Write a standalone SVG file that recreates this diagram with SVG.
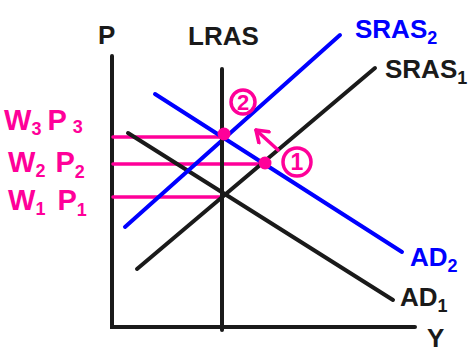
<svg xmlns="http://www.w3.org/2000/svg" width="472" height="354" viewBox="0 0 472 354">
<style>
.k{stroke:#1a1a1a;stroke-width:4;stroke-linecap:round;fill:none}
.b{stroke:#0000ff;stroke-width:4;stroke-linecap:round;fill:none}
.p{stroke:#ff0099;stroke-width:3.5;stroke-linecap:round;fill:none}
.t{font-family:"Liberation Sans",Arial,sans-serif;font-size:26px;font-weight:bold}
.tk{fill:#1a1a1a}.tb{fill:#0000ff}.tp{fill:#ff0099}
.s{font-size:18px}
.lp{font-size:29px}
</style>
<defs>
<marker id="ah" viewBox="0 0 10 10" refX="9" refY="5" markerWidth="18" markerHeight="18" markerUnits="userSpaceOnUse" orient="auto">
<path d="M3,0.8 L9,5 L3,9.2" stroke="#ff0099" stroke-width="2" fill="none" stroke-linecap="round" stroke-linejoin="round"/>
</marker>
</defs>
<g id="axes">
<path class="k" d="M112,56 L112,327 L415,327"/>
<text class="t tk" x="98" y="44">P</text>
<text class="t tk" x="427" y="347">Y</text>
</g>
<g id="connectors">
<line class="p" x1="113" y1="137" x2="224" y2="137"/>
<line class="p" x1="113" y1="164" x2="265" y2="164"/>
<line class="p" x1="113" y1="197" x2="222" y2="197"/>
<line class="k" x1="128" y1="133" x2="393" y2="300"/>
<line class="k" x1="137" y1="269" x2="375" y2="68"/>
<line class="b" x1="155" y1="94" x2="402" y2="252"/>
<line class="b" x1="125" y1="227" x2="340" y2="35"/>
<line class="p" x1="278" y1="150" x2="256" y2="130" marker-end="url(#ah)"/>
</g>
<g id="lras">
<line class="k" x1="222" y1="69" x2="222" y2="330"/>
<text class="t tk" x="188" y="45">LRAS</text>
</g>
<g id="sras2"><text class="t tb" x="355" y="38">SRAS<tspan class="s" dy="6">2</tspan></text></g>
<g id="sras1"><text class="t tk" x="385" y="78">SRAS<tspan class="s" dy="6">1</tspan></text></g>
<g id="ad2"><text class="t tb" x="410" y="266">AD<tspan class="s" dy="6">2</tspan></text></g>
<g id="ad1"><text class="t tk" x="400" y="306">AD<tspan class="s" dy="6">1</tspan></text></g>
<g id="labels-left">
<text class="t tp lp" x="4" y="130">W<tspan class="s" dy="5">3</tspan><tspan dx="6" dy="-5">P</tspan><tspan class="s" dx="6" dy="3">3</tspan></text>
<text class="t tp lp" x="8" y="172">W<tspan class="s" dy="5">2</tspan><tspan dx="10" dy="-5">P</tspan><tspan class="s" dy="6">2</tspan></text>
<text class="t tp lp" x="8" y="210">W<tspan class="s" dy="5">1</tspan><tspan dx="12" dy="-5">P</tspan><tspan class="s" dy="6">1</tspan></text>
</g>
<g id="point2">
<circle cx="224" cy="134" r="6.5" fill="#ff0099"/>
<circle cx="243" cy="102" r="12" class="p"/>
<text class="t tp" x="243" y="110" text-anchor="middle" style="font-size:22px">2</text>
</g>
<g id="point1">
<circle cx="297" cy="162" r="14" class="p"/>
<circle cx="265" cy="163" r="6.5" fill="#ff0099"/>
<text class="t tp" x="297" y="170" text-anchor="middle" style="font-size:23px">1</text>
</g>
</svg>
